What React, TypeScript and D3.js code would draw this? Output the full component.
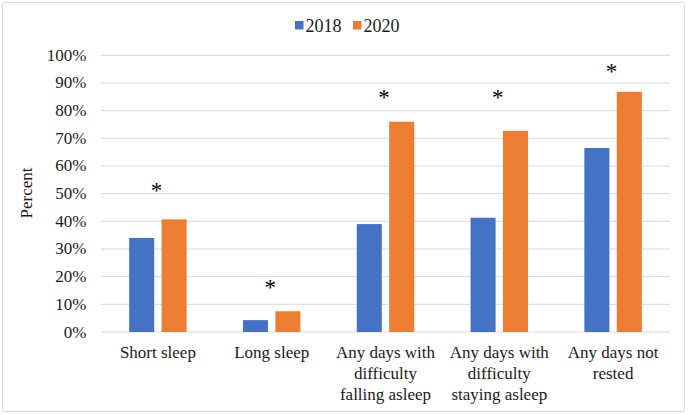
import React from "react";
import * as d3 from "d3";

const categories: string[][] = [
  ["Short sleep"],
  ["Long sleep"],
  ["Any days with", "difficulty", "falling asleep"],
  ["Any days with", "difficulty", "staying asleep"],
  ["Any days not", "rested"],
];
const seriesNames = ["2018", "2020"];
const values2018 = [34.0, 4.3, 39.0, 41.3, 66.5];
const values2020 = [40.7, 7.5, 76.0, 72.7, 86.8];
const asteriskLevels = [52.3, 17.3, 86.0, 86.0, 95.3];
const yTicks = [0, 10, 20, 30, 40, 50, 60, 70, 80, 90, 100];

const W = 689;
const H = 414;
const colors = ["#4472C4", "#ED7D31"];
const FONT = "Liberation Serif, Times New Roman, DejaVu Serif, serif";
const ts: React.CSSProperties = { fontFamily: FONT };

export default function App() {
  const x = d3
    .scaleBand<number>()
    .domain(categories.map((_, i) => i))
    .range([101, 670])
    .paddingInner(0)
    .paddingOuter(0);
  const y = d3.scaleLinear().domain([0, 100]).range([332, 55.3]);
  const bw = x.bandwidth();
  const barW = bw * 0.22;
  const gap = bw * 0.065;
  const series = [values2018, values2020];

  return (
    <svg
      width={W}
      height={H}
      style={{ position: "absolute", left: 0, top: 0, fontFamily: FONT }}
    >
      <rect x={0} y={0} width={W} height={H} fill="#fff" />
      <rect x={2.5} y={2.5} width={682} height={409} fill="none" stroke="#d9d9d9" strokeWidth={1} rx={2} />

      {/* legend */}
      {seriesNames.map((s, i) => (
        <g key={s} transform={`translate(${295 + i * 58},0)`}>
          <rect x={0} y={21} width={8.5} height={8.5} fill={colors[i]} />
          <text x={10.5} y={31.5} fontSize={18} fill="#1a1a1a" style={ts}>
            {s}
          </text>
        </g>
      ))}

      {/* gridlines and y ticks */}
      {yTicks.map((t) => (
        <g key={t}>
          <line x1={101} x2={670} y1={y(t)} y2={y(t)} stroke="#d9d9d9" strokeWidth={1} />
          <text
            x={86.5}
            y={y(t)}
            textAnchor="end"
            dominantBaseline="central"
            fontSize={17}
            fill="#1a1a1a"
            style={ts}
          >
            {t}%
          </text>
        </g>
      ))}

      {/* y axis title */}
      <text
        transform={`translate(32,193) rotate(-90)`}
        textAnchor="middle"
        fontSize={17}
        fill="#1a1a1a"
        style={ts}
      >
        Percent
      </text>

      {/* bars */}
      {series.map((vals, si) =>
        vals.map((v, ci) => {
          const cx = (x(ci) as number) + bw / 2;
          const left = si === 0 ? cx - gap / 2 - barW : cx + gap / 2;
          return (
            <rect
              key={`${si}-${ci}`}
              x={left}
              y={y(v)}
              width={barW}
              height={y(0) - y(v)}
              fill={colors[si]}
            />
          );
        })
      )}

      {/* asterisks */}
      {asteriskLevels.map((a, ci) => (
        <text
          key={ci}
          x={(x(ci) as number) + bw / 2 - 1.5}
          y={y(a) + 11}
          textAnchor="middle"
          fontSize={23}
          fill="#000"
          style={ts}
        >
          *
        </text>
      ))}

      {/* x labels */}
      {categories.map((lines, ci) => (
        <text
          key={ci}
          x={(x(ci) as number) + bw / 2}
          y={357.5}
          textAnchor="middle"
          fontSize={17}
          fill="#1a1a1a"
          style={ts}
        >
          {lines.map((l, li) => (
            <tspan key={li} x={(x(ci) as number) + bw / 2} dy={li === 0 ? 0 : 21}>
              {l}
            </tspan>
          ))}
        </text>
      ))}
    </svg>
  );
}
